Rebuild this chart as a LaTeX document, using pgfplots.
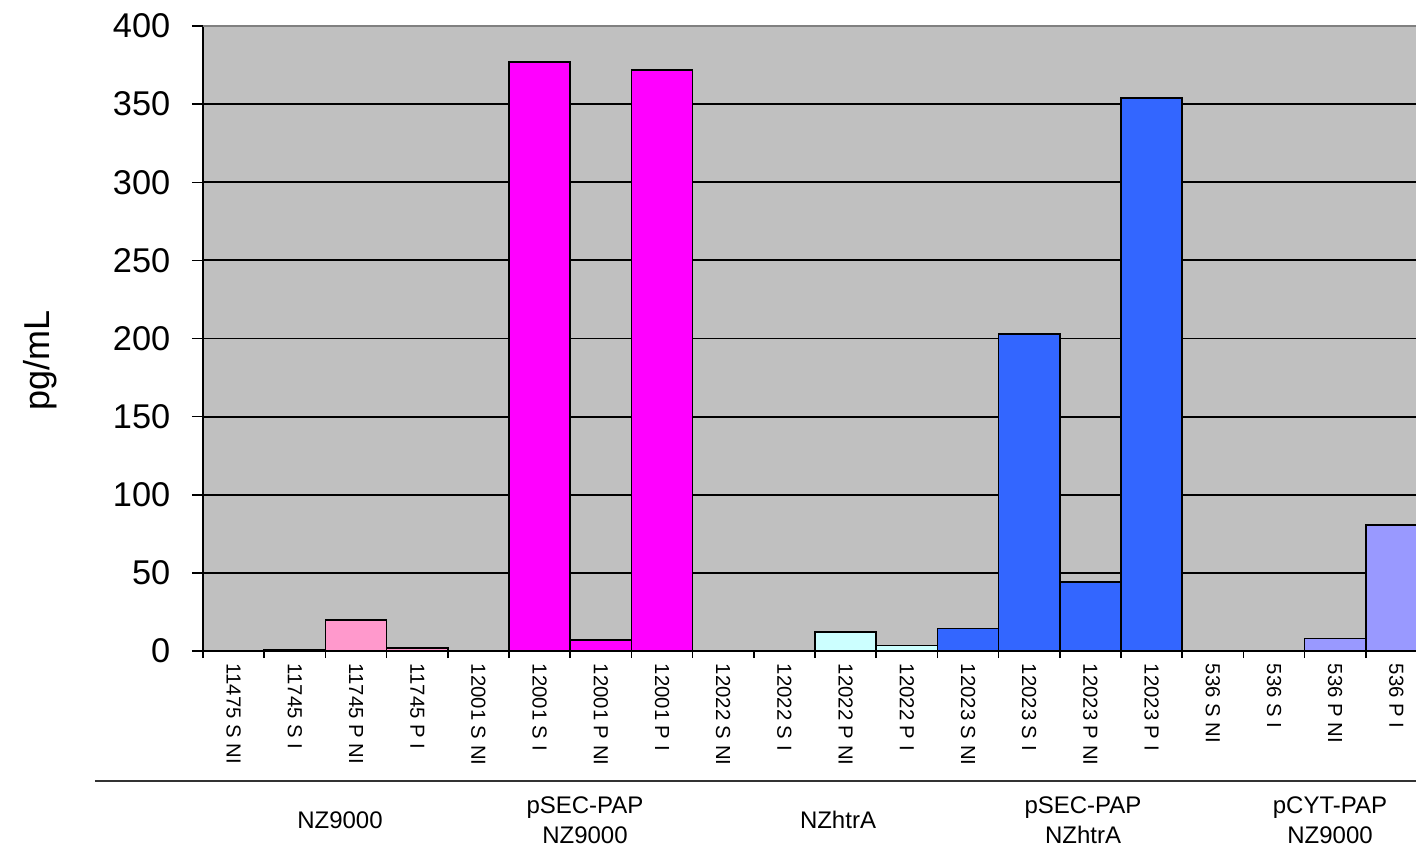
\documentclass[border=0pt]{standalone}
\usepackage{pgfplots}
\pgfplotsset{compat=1.18}
\usepackage{fontspec}
\setmainfont{Liberation Sans}

\definecolor{plotBg}{HTML}{C0C0C0}
\definecolor{frameGray}{HTML}{808080}
\definecolor{cPink}{HTML}{FF99CC}
\definecolor{cMagenta}{HTML}{FF00FF}
\definecolor{cCyan}{HTML}{CCFFFF}
\definecolor{cBlue}{HTML}{3366FF}
\definecolor{cLilac}{HTML}{9999FF}

\begin{document}
\begin{tikzpicture}
\begin{axis}[
  scale only axis,
  width=367.2pt, height=187.5pt,
  xmin=-0.5, xmax=19.5, ymin=0, ymax=400,
  axis lines*=left,
  axis line style={black, line width=0.5pt},
  axis background/.style={fill=plotBg},
  ytick={0,50,...,400},
  ymajorgrids,
  grid style={black, line width=0.55pt},
  tick align=outside,
  major tick length=3.3pt,
  minor tick length=2.1pt,
  tick style={black, line width=0.45pt},
  xtick={0,...,19},
  minor xtick={-0.5,0.5,...,19.5},
  major x tick style={draw=none},
  xticklabels={11475 S NI, 11745 S I, 11745 P NI, 11745 P I,
               12001 S NI, 12001 S I, 12001 P NI, 12001 P I,
               12022 S NI, 12022 S I, 12022 P NI, 12022 P I,
               12023 S NI, 12023 S I, 12023 P NI, 12023 P I,
               536 S NI, 536 S I, 536 P NI, 536 P I},
  xticklabel style={yshift=3pt, rotate=-90, anchor=west, font=\fontsize{6.1}{7}\selectfont},
  yticklabel style={xshift=-3pt, font=\fontsize{10.3}{12}\selectfont},
  /pgf/number format/assume math mode=true,
  every axis plot/.append style={ybar, bar width=1, bar shift=0pt, draw=black, line width=0.5pt},
  clip=false,
]
% NZ9000
\addplot[fill=cPink] coordinates {(1,1) (2,20) (3,2)};
% pSEC-PAP in NZ9000
\addplot[fill=cMagenta] coordinates {(5,377) (6,7) (7,372)};
% NZhtrA
\addplot[fill=cCyan] coordinates {(10,12) (11,3.5)};
% pSEC-PAP in NZhtrA
\addplot[fill=cBlue] coordinates {(12,14.5) (13,203) (14,44) (15,354)};
% pCYT-PAP in NZ9000
\addplot[fill=cLilac] coordinates {(18,8) (19,80.5)};
% plot-area frame on top
\draw[frameGray, line width=0.5pt] (rel axis cs:0,1) -- (rel axis cs:1,1) -- (rel axis cs:1,0);
\end{axis}

% y-axis title
\node[rotate=90, font=\fontsize{10.8}{12}\selectfont] at (-48.9pt,87.3pt) {pg/mL};

% grouping row under the sample labels
\draw[black!80, line width=0.6pt] (-32.4pt,-39pt) -- (370pt,-39pt);
\begin{scope}[every node/.style={align=center, font=\fontsize{7.2}{9}\selectfont}]
  \node at (41.1pt,-50.7pt) {NZ9000};
  \node at (114.6pt,-50.7pt) {pSEC-PAP\\NZ9000};
  \node at (190.5pt,-50.7pt) {NZhtrA};
  \node at (264pt,-50.7pt) {pSEC-PAP\\NZhtrA};
  \node at (338.1pt,-50.7pt) {pCYT-PAP\\NZ9000};
\end{scope}

\pgfresetboundingbox
\useasboundingbox (-60.9pt,-60pt) rectangle (363.9pt,195.3pt);
\end{tikzpicture}
\end{document}
